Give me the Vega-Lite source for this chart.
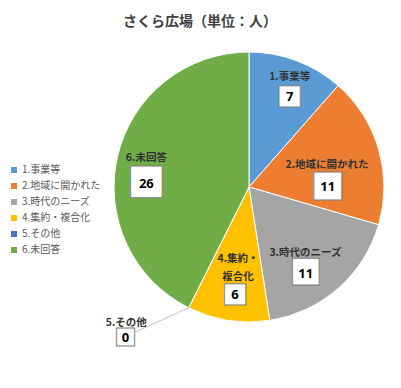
{
  "$schema": "https://vega.github.io/schema/vega-lite/v6.json",
  "width": 270,
  "height": 270,
  "autosize": {"type": "none"},
  "padding": {"left": 114, "top": 52, "right": 17, "bottom": 66},
  "background": "white",
  "title": {"text": "さくら広場（単位：人）", "font": "Noto Sans CJK JP", "fontSize": 14, "fontWeight": "bold", "color": "#404040", "anchor": "middle", "frame": "group", "dx": -49, "offset": 12},
  "data": {"values": [
    {"id": 1, "name": "1.事業等", "label": "1.事業等", "value": 7},
    {"id": 2, "name": "2.地域に開かれた", "label": "2.地域に開かれた", "value": 11},
    {"id": 3, "name": "3.時代のニーズ", "label": "3.時代のニーズ", "value": 11},
    {"id": 4, "name": "4.集約・複合化", "label": "4.集約・\n複合化", "value": 6},
    {"id": 5, "name": "5.その他", "label": "5.その他", "value": 0},
    {"id": 6, "name": "6.未回答", "label": "6.未回答", "value": 26}
  ]},
  "encoding": {
    "theta": {"field": "value", "type": "quantitative", "stack": true},
    "order": {"field": "id", "type": "quantitative"}
  },
  "layer": [
    {
      "mark": {"type": "arc", "outerRadius": 135, "stroke": "white", "strokeWidth": 1},
      "encoding": {
        "color": {
          "field": "name", "type": "nominal",
          "scale": {"domain": ["1.事業等", "2.地域に開かれた", "3.時代のニーズ", "4.集約・複合化", "5.その他", "6.未回答"],
                    "range": ["#5B9BD5", "#ED7D31", "#A5A5A5", "#FFC000", "#4472C4", "#70AD47"]},
          "legend": {"orient": "none", "legendX": -105, "legendY": 113, "title": null, "symbolType": "square", "symbolSize": 36, "symbolStrokeWidth": 0, "labelFont": "Noto Sans CJK JP", "labelFontSize": 10, "labelColor": "#595959", "rowPadding": 6, "labelOffset": 3, "padding": 0}
        }
      }
    },
    {
      "mark": {"type": "text", "radius": {"expr": "[0,116.8,80.8,88,83.1,183.4,106.5][datum.id]"}, "thetaOffset": {"expr": "[0,-0.0047,0.018,0.0244,-0.0218,0.2695,0.037][datum.id]"}, "dy": {"expr": "[0,-1,-1,-1,-10,0,-1][datum.id]"}, "font": "Noto Sans CJK JP", "fontSize": 10.5, "fontWeight": "bold", "lineBreak": "\n", "lineHeight": 18, "color": "#333333", "align": "center", "baseline": "middle"},
      "encoding": {"text": {"field": "label"}}
    },
    {
      "mark": {"type": "text", "radius": {"expr": "[0,116.8,80.8,88,83.1,183.4,106.5][datum.id]"}, "thetaOffset": {"expr": "[0,-0.0047,0.018,0.0244,-0.0218,0.2695,0.037][datum.id]"}, "dy": {"expr": "[0,20,22,20,26.5,15.5,26][datum.id]"}, "dx": {"expr": "[0,0,0.8,0.3,-3,-0.8,0][datum.id]"}, "font": "Noto Sans CJK JP", "fontSize": {"expr": "[0,26.7,35,33.5,26.7,22.6,39.7][datum.id]"}, "fill": "white", "stroke": "#7f7f7f", "strokeWidth": 1, "align": "center", "baseline": "middle"},
      "encoding": {"text": {"value": "■"}}
    },
    {
      "mark": {"type": "text", "radius": {"expr": "[0,116.8,80.8,88,83.1,183.4,106.5][datum.id]"}, "thetaOffset": {"expr": "[0,-0.0047,0.018,0.0244,-0.0218,0.2695,0.037][datum.id]"}, "dy": {"expr": "[0,19.5,21.5,19.5,26,15,25.5][datum.id]"}, "dx": {"expr": "[0,0,0.8,0.3,-3,-0.8,0][datum.id]"}, "font": "Noto Sans", "fontSize": 13, "fontWeight": "bold", "color": "#000000", "align": "center", "baseline": "middle"},
      "encoding": {"text": {"field": "value", "type": "quantitative"}}
    },
    {
      "mark": {"type": "text", "radius": 159.6, "thetaOffset": 0.1159, "angle": 335.6, "font": "DejaVu Sans", "fontSize": 10, "color": "#bfbfbf", "align": "center", "baseline": "middle"},
      "encoding": {"text": {"condition": {"test": "datum.id == 5", "value": "──────────"}, "value": ""}}
    }
  ],
  "config": {"view": {"stroke": null}}
}
